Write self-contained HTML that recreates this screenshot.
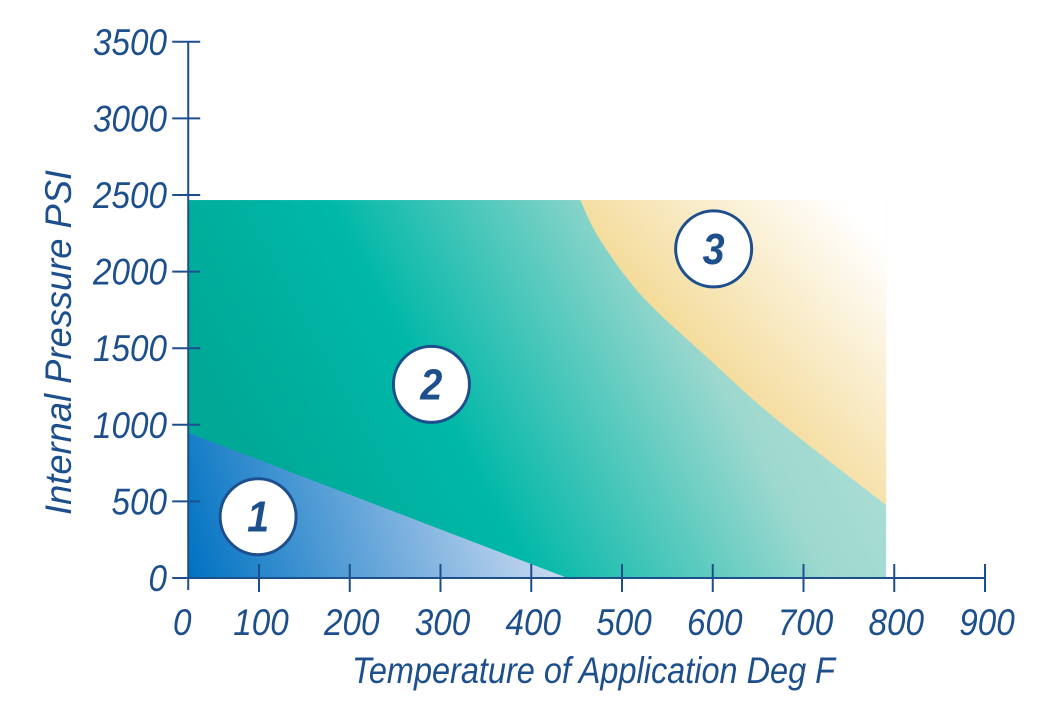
<!DOCTYPE html>
<html><head><meta charset="utf-8"><style>
html,body{margin:0;padding:0;background:#fff;}
svg{display:block;}
text{font-family:"Liberation Sans Narrow","Liberation Sans",sans-serif;font-style:italic;fill:#1d4f8c;}
</style></head><body>
<svg id="chart" width="1047" height="715" viewBox="0 0 1047 715">
<defs>
<linearGradient id="g2" gradientUnits="userSpaceOnUse" x1="290" y1="540" x2="860" y2="230">
<stop offset="0" stop-color="#00a896"/><stop offset="0.3" stop-color="#00b8a8"/><stop offset="0.7" stop-color="#9dd8cf"/><stop offset="1" stop-color="#b5e2da"/></linearGradient>
<linearGradient id="g1" gradientUnits="userSpaceOnUse" x1="190" y1="578" x2="540" y2="470">
<stop offset="0" stop-color="#0072c2"/><stop offset="1" stop-color="#cfdcf2"/></linearGradient>
<linearGradient id="g3" gradientUnits="userSpaceOnUse" x1="650" y1="430" x2="870" y2="230">
<stop offset="0" stop-color="#f0cd72"/><stop offset="1" stop-color="#ffffff"/></linearGradient>
</defs>
<g id="regions"></g>
<g id="axes"></g>
<g id="badges"></g>
<text x="352" y="683" font-size="37" textLength="483" lengthAdjust="spacingAndGlyphs">Temperature of Application Deg F</text>
<text x="0" y="0" font-size="37" textLength="345" lengthAdjust="spacingAndGlyphs" transform="translate(71,515) rotate(-90)">Internal Pressure PSI</text>
</svg>
<script>
const xTicks=[100,200,300,400,500,600,700,800,900];
const yTicks=[0,500,1000,1500,2000,2500,3000,3500];
const xMinData=22;
const envelopeTop=2467;
const envelopeRight=791;
const region1X=[22,22,440];
const region1Y=[0,948,0];
const region3X=[454,476,523,597,671,791];
const region3Y=[2467,2206,1834,1423,1031,476];
const badgeLabels=["1","2","3"];
const badgeX=[99,290,601];
const badgeY=[400,1264,2148];

const NS="http://www.w3.org/2000/svg";
function x(v){return 259+(v-100)*0.9075;}
function y(v){return 578-v*0.1532;}
function mk(tag,attrs,parent){const e=document.createElementNS(NS,tag);for(const k in attrs)e.setAttribute(k,attrs[k]);parent.appendChild(e);return e;}
const R=document.getElementById('regions'),A=document.getElementById('axes'),B=document.getElementById('badges');
const x0=x(xMinData),y0=y(0);
let e=mk('rect',{x:x0,y:y(envelopeTop),width:x(envelopeRight)-x0,height:y0-y(envelopeTop),fill:'url(#g2)'},R);


// smooth curve through region-3 boundary points (Catmull-Rom)
const P=region3X.map((v,i)=>[x(v),y(region3Y[i])]);
let d='M'+P[0][0]+','+P[0][1];
for(let i=0;i<P.length-1;i++){
 const p0=P[Math.max(0,i-1)],p1=P[i],p2=P[i+1],p3=P[Math.min(P.length-1,i+2)];
 d+=' C'+(p1[0]+(p2[0]-p0[0])/6)+','+(p1[1]+(p2[1]-p0[1])/6)+' '+(p2[0]-(p3[0]-p1[0])/6)+','+(p2[1]-(p3[1]-p1[1])/6)+' '+p2[0]+','+p2[1];
}
d+=' L'+x(envelopeRight)+','+y(envelopeTop)+' Z';
e=mk('path',{d:d,fill:'url(#g3)'},R);


e=mk('polygon',{points:region1X.map((v,i)=>x(v)+','+y(region1Y[i])).join(' '),fill:'url(#g1)'},R);


const st={stroke:'#1d4f8c','stroke-width':2};
e=mk('line',Object.assign({x1:x0,y1:y0,x2:x(xTicks[xTicks.length-1]),y2:y0},st),A);


e=mk('line',Object.assign({x1:x0,y1:y(yTicks[yTicks.length-1]),x2:x0,y2:y0+12},st),A);


const cw=18.5;
e=mk('text',{x:x0-6,y:635,'font-size':37,'text-anchor':'middle',textLength:cw,lengthAdjust:'spacingAndGlyphs'},A);e.textContent='0';


xTicks.forEach(t=>{
 let l=mk('line',Object.assign({x1:x(t),y1:y0-14,x2:x(t),y2:y0+14},st),A);
 
 
 const s=String(t);
 let tx=mk('text',{x:x(t)+2,y:635,'font-size':37,'text-anchor':'middle',textLength:cw*s.length,lengthAdjust:'spacingAndGlyphs'},A);tx.textContent=s;
 
 
});
yTicks.forEach(t=>{
 let l=mk('line',Object.assign({x1:x0-16,y1:y(t),x2:x0+12,y2:y(t)},st),A);
 
 
 const s=String(t);
 let tx=mk('text',{x:167,y:y(t)+13,'font-size':37,'text-anchor':'end',textLength:cw*s.length,lengthAdjust:'spacingAndGlyphs'},A);tx.textContent=s;
 
 
});
badgeLabels.forEach((lab,i)=>{
 const g=mk('g',{},B);
 
 
 mk('circle',{cx:x(badgeX[i]),cy:y(badgeY[i]),r:38,fill:'#fff',stroke:'#1d4f8c','stroke-width':3},g);
 const t=mk('text',{x:x(badgeX[i]),y:y(badgeY[i])+15,'font-size':44,'font-weight':'bold','text-anchor':'middle',textLength:22,lengthAdjust:'spacingAndGlyphs'},g);
 t.textContent=lab;
});
</script>
</body></html>
